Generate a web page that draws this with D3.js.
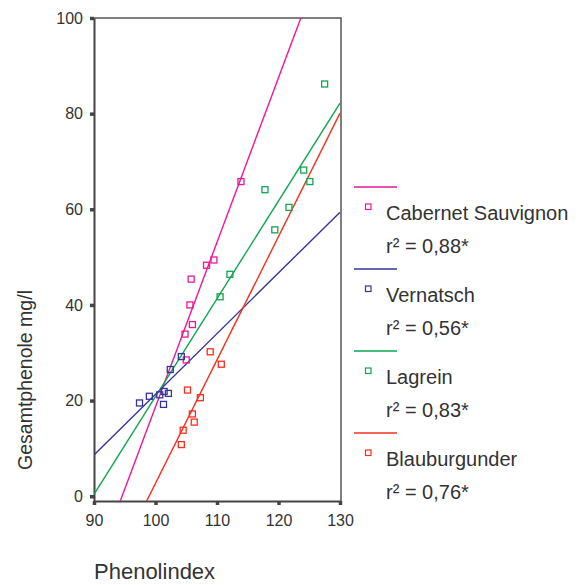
<!DOCTYPE html>
<html>
<head>
<meta charset="utf-8">
<script src="https://cdn.jsdelivr.net/npm/d3@7"></script>
<style>
  body { margin: 0; background: #fff; }
  svg text { font-family: "Liberation Sans", Arial, sans-serif; fill: #333; }
  .axis path, .axis line { stroke: #444; }
</style>
</head>
<body>
<div id="viz"></div>
<script>
// varieties + fit stats
var varieties = ["Cabernet Sauvignon", "Vernatsch", "Lagrein", "Blauburgunder"];
var r2Values = ["0,88*", "0,56*", "0,83*", "0,76*"];

// points: [Phenolindex, Gesamtphenole]
var cabernetPoints = [
  [113.9, 65.8], [109.5, 49.4], [108.3, 48.3], [105.8, 45.4],
  [105.6, 40.0], [106.0, 35.9], [104.8, 33.9], [105.0, 28.5]
];
var vernatschPoints = [
  [104.2, 29.2], [102.4, 26.5], [97.4, 19.5], [99.0, 20.9],
  [100.7, 21.2], [101.4, 21.9], [102.1, 21.5], [101.3, 19.2]
];
var lagreinPoints = [
  [127.5, 86.2], [124.1, 68.2], [125.1, 65.8], [117.8, 64.1],
  [121.7, 60.4], [119.4, 55.7], [112.1, 46.4], [110.5, 41.7]
];
var blauburgunderPoints = [
  [108.9, 30.2], [110.7, 27.6], [105.2, 22.2], [107.3, 20.6],
  [106.0, 17.2], [106.3, 15.5], [104.5, 13.8], [104.2, 10.8]
];

// linear fit lines (y = a + b*x), as drawn in the picture
var fitIntercepts = [-325.3, -105.7, -183.65, -255.3];
var fitSlopes = [3.44, 1.27, 2.045, 2.58];

var xTicks = [90, 100, 110, 120, 130];
var yTicks = [0, 20, 40, 60, 80, 100];

var colors = ["#ee1697", "#34349a", "#12a552", "#f4301c"];
var allPoints = [cabernetPoints, vernatschPoints, lagreinPoints, blauburgunderPoints];

var svg = d3.select("#viz").append("svg")
  .attr("width", 579)
  .attr("height", 585);

var plotLeft = 94, plotRight = 340, plotTop = 18, plotBottom = 501;

var xScale = d3.scaleLinear().domain([90, 130]).range([plotLeft, plotRight]);
var yScale = d3.scaleLinear().domain([-1, 100]).range([plotBottom, plotTop]);

svg.append("defs").append("clipPath").attr("id", "plotclip")
  .append("rect")
  .attr("x", plotLeft).attr("y", plotTop)
  .attr("width", plotRight - plotLeft).attr("height", plotBottom - plotTop);

// frame (top + right)
svg.append("path")
  .attr("d", `M${plotLeft},${plotTop}H${plotRight + 1}V${plotBottom}`)
  .attr("fill", "none")
  .attr("stroke", "#555")
  .attr("stroke-width", 1.5);

var xAxis = svg.append("g")
  .attr("class", "axis")
  .attr("transform", `translate(0, ${plotBottom})`)
  .call(d3.axisBottom(xScale).tickValues(xTicks).tickSize(4).tickPadding(10).tickSizeOuter(0));
xAxis.select(".domain").attr("stroke-width", 2);
xAxis.selectAll(".tick line").attr("stroke-width", 3.5);
xAxis.selectAll("text").attr("font-size", 16).attr("fill", "#333");

var yAxis = svg.append("g")
  .attr("class", "axis")
  .attr("transform", `translate(${plotLeft}, 0)`)
  .call(d3.axisLeft(yScale).tickValues(yTicks).tickSize(4).tickPadding(7).tickSizeOuter(0));
yAxis.select(".domain").attr("stroke-width", 2);
yAxis.selectAll(".tick line").attr("stroke-width", 3.5);
yAxis.selectAll("text").attr("font-size", 16).attr("fill", "#333");

// fit lines
var plot = svg.append("g").attr("clip-path", "url(#plotclip)");
var lineGen = d3.line()
  .x(d => xScale(d[0]))
  .y(d => yScale(d[1]));

fitSlopes.forEach(function (b, i) {
  var a = fitIntercepts[i];
  plot.append("path")
    .datum([[90, a + b * 90], [130, a + b * 130]])
    .attr("d", lineGen)
    .attr("fill", "none")
    .attr("stroke", colors[i])
    .attr("stroke-width", 1.4);
});

// markers
allPoints.forEach(function (pts, i) {
  svg.append("g").selectAll("rect")
    .data(pts)
    .enter()
    .append("rect")
    .attr("x", d => xScale(d[0]) - 3)
    .attr("y", d => yScale(d[1]) - 3)
    .attr("width", 6)
    .attr("height", 6)
    .attr("fill", "none")
    .attr("stroke", colors[i])
    .attr("stroke-width", 1.3);
});

// legend
var legend = svg.append("g");
varieties.forEach(function (name, i) {
  var y0 = 187 + i * 82;
  legend.append("line")
    .attr("x1", 354).attr("x2", 397)
    .attr("y1", y0).attr("y2", y0)
    .attr("stroke", colors[i])
    .attr("stroke-width", 1.4);
  legend.append("rect")
    .attr("x", 365.5).attr("y", y0 + 17)
    .attr("width", 5.5).attr("height", 5.5)
    .attr("fill", "none")
    .attr("stroke", colors[i])
    .attr("stroke-width", 1.2);
  legend.append("text")
    .attr("x", 386).attr("y", y0 + 33)
    .attr("font-size", 20)
    .text(name);
  legend.append("text")
    .attr("x", 386).attr("y", y0 + 66)
    .attr("font-size", 20)
    .text("r² = " + r2Values[i]);
});

// axis titles
svg.append("text")
  .attr("transform", "translate(32, 380) rotate(-90)")
  .attr("text-anchor", "middle")
  .attr("font-size", 19.5)
  .text("Gesamtphenole mg/l");

svg.append("text")
  .attr("x", 94)
  .attr("y", 579)
  .attr("font-size", 22)
  .text("Phenolindex");
</script>
</body>
</html>
